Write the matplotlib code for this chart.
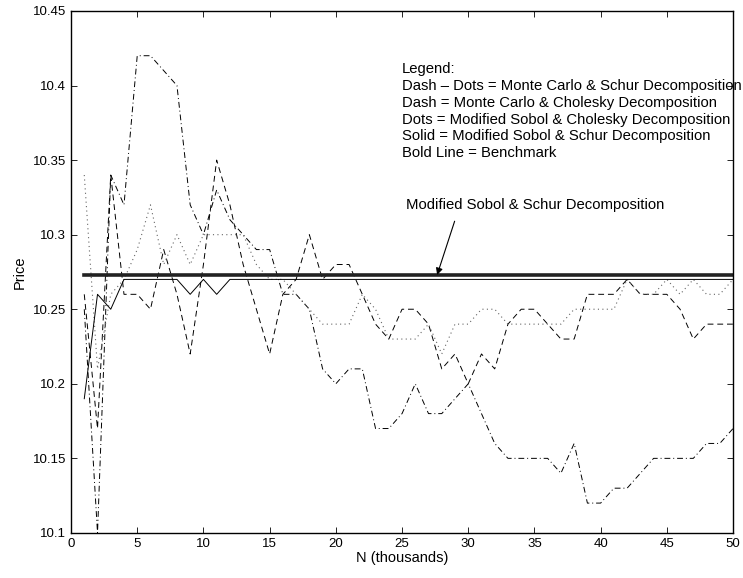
import matplotlib

matplotlib.use("Agg")
import matplotlib.pyplot as plt
import numpy as np

plt.rcParams["font.family"] = ["Liberation Sans", "DejaVu Sans"]

n_thousands = np.arange(1, 51)

# Dash-dots: Monte Carlo & Schur
mc_schur = [
    10.25, 10.10, 10.34, 10.32, 10.42, 10.42, 10.41, 10.40, 10.32, 10.30,
    10.33, 10.31, 10.30, 10.29, 10.29, 10.26, 10.26, 10.25, 10.21, 10.20,
    10.21, 10.21, 10.17, 10.17, 10.18, 10.20, 10.18, 10.18, 10.19, 10.20,
    10.18, 10.16, 10.15, 10.15, 10.15, 10.15, 10.14, 10.16, 10.12, 10.12,
    10.13, 10.13, 10.14, 10.15, 10.15, 10.15, 10.15, 10.16, 10.16, 10.17,
]

# Dash: Monte Carlo & Cholesky
mc_chol = [
    10.26, 10.17, 10.34, 10.26, 10.26, 10.25, 10.29, 10.26, 10.22, 10.28,
    10.35, 10.32, 10.28, 10.25, 10.22, 10.26, 10.27, 10.30, 10.27, 10.28,
    10.28, 10.26, 10.24, 10.23, 10.25, 10.25, 10.24, 10.21, 10.22, 10.20,
    10.22, 10.21, 10.24, 10.25, 10.25, 10.24, 10.23, 10.23, 10.26, 10.26,
    10.26, 10.27, 10.26, 10.26, 10.26, 10.25, 10.23, 10.24, 10.24, 10.24,
]

# Dots: Modified Sobol & Cholesky
sobol_chol = [
    10.34, 10.21, 10.26, 10.27, 10.29, 10.32, 10.28, 10.30, 10.28, 10.30,
    10.30, 10.30, 10.30, 10.28, 10.27, 10.27, 10.26, 10.25, 10.24, 10.24,
    10.24, 10.26, 10.25, 10.23, 10.23, 10.23, 10.24, 10.22, 10.24, 10.24,
    10.25, 10.25, 10.24, 10.24, 10.24, 10.24, 10.24, 10.25, 10.25, 10.25,
    10.25, 10.27, 10.26, 10.26, 10.27, 10.26, 10.27, 10.26, 10.26, 10.27,
]

# Solid: Modified Sobol & Schur
sobol_schur = [
    10.19, 10.26, 10.25, 10.27, 10.27, 10.27, 10.27, 10.27, 10.26, 10.27,
    10.26, 10.27, 10.27, 10.27, 10.27, 10.27, 10.27, 10.27, 10.27, 10.27,
    10.27, 10.27, 10.27, 10.27, 10.27, 10.27, 10.27, 10.27, 10.27, 10.27,
    10.27, 10.27, 10.27, 10.27, 10.27, 10.27, 10.27, 10.27, 10.27, 10.27,
    10.27, 10.27, 10.27, 10.27, 10.27, 10.27, 10.27, 10.27, 10.27, 10.27,
]

benchmark = 10.273

x_ticks = np.arange(0, 51, 5)
y_ticks = [10.1, 10.15, 10.2, 10.25, 10.3, 10.35, 10.4, 10.45]
y_tick_labels = ["10.1", "10.15", "10.2", "10.25", "10.3", "10.35", "10.4", "10.45"]

legend_lines = [
    "Legend:",
    "Dash \u2013 Dots = Monte Carlo & Schur Decomposition",
    "Dash = Monte Carlo & Cholesky Decomposition",
    "Dots = Modified Sobol & Cholesky Decomposition",
    "Solid = Modified Sobol & Schur Decomposition",
    "Bold Line = Benchmark",
]
legend_y = [10.411, 10.400, 10.388, 10.377, 10.366, 10.355]

fig = plt.figure(figsize=(7.43, 5.78), dpi=100)
ax = fig.add_axes([0.0956, 0.078, 0.891, 0.903])

ax.plot(n_thousands, mc_schur, color="black", lw=0.7, linestyle=(0, (6, 3, 1, 3)))
ax.plot(n_thousands, mc_chol, color="black", lw=0.7, linestyle=(0, (6, 4)))
ax.plot(n_thousands, sobol_chol, color="#666666", lw=0.8, linestyle=(0, (1, 3)))
ax.plot(n_thousands, sobol_schur, color="black", lw=0.7)
ax.plot([n_thousands[0], n_thousands[-1]], [benchmark, benchmark], color="#222222", lw=2.6)

for txt, yv in zip(legend_lines, legend_y):
    ax.text(25.0, yv, txt, fontsize=10.7, ha="left", va="center")

ax.annotate(
    "Modified Sobol & Schur Decomposition",
    xy=(27.65, benchmark), xytext=(25.3, 10.320),
    fontsize=10.7, ha="left", va="center",
    arrowprops=dict(arrowstyle="-|>", color="black", lw=0.8,
                    shrinkA=5, shrinkB=0, mutation_scale=10,
                    relpos=(0.2, 0.0)),
)

ax.set_xlim(0, 50)
ax.set_ylim(10.1, 10.45)
ax.set_xticks(x_ticks)
ax.set_yticks(y_ticks)
ax.set_yticklabels(y_tick_labels)
ax.tick_params(direction="in", top=True, right=True, labelsize=9.5, length=4, width=0.6)
for sp in ax.spines.values():
    sp.set_linewidth(1.0)

ax.set_xlabel("N (thousands)", fontsize=10.5, labelpad=1)
ax.set_ylabel("Price", fontsize=10.5, labelpad=4)

plt.savefig("out.png", dpi=100)
plt.close()
